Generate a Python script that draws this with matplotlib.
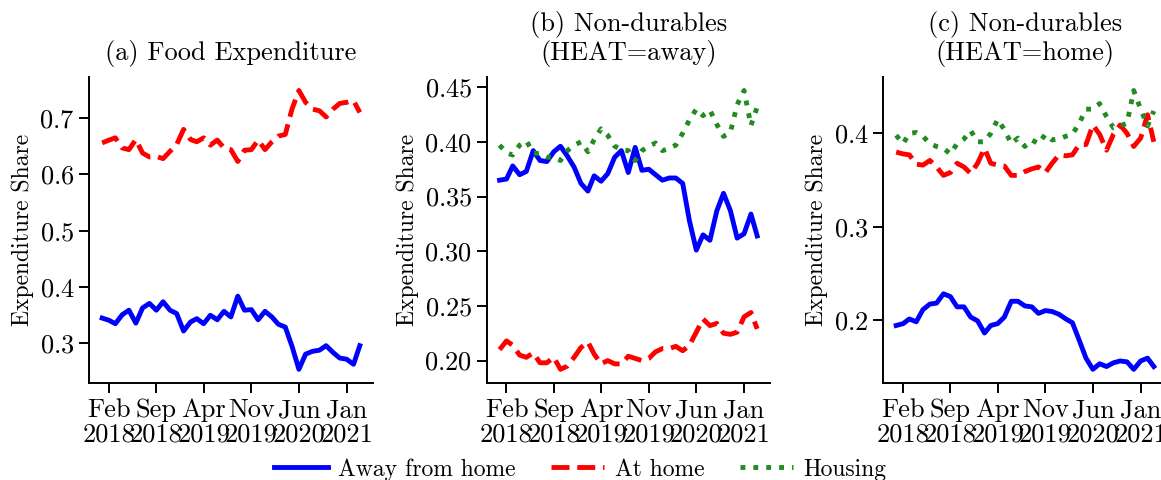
import matplotlib
matplotlib.use("Agg")
import matplotlib.pyplot as plt
import matplotlib.dates as mdates
import pandas as pd

plt.rcParams.update({
    "font.family": "serif",
    "font.serif": ["cmr10"],
    "mathtext.fontset": "cm",
    "axes.formatter.use_mathtext": True,
    "font.size": 19,
    "axes.spines.top": False,
    "axes.spines.right": False,
    "axes.linewidth": 1.4,
    "xtick.major.width": 1.4,
    "ytick.major.width": 1.4,
    "xtick.major.size": 7,
    "ytick.major.size": 7,
})

# monthly observations, Jan 2018 - Mar 2021
months = pd.date_range("2018-01-01", periods=39, freq="MS")
tick_dates = pd.to_datetime(["2018-02-01", "2018-09-01", "2019-04-01",
                             "2019-11-01", "2020-06-01", "2021-01-01"])

food_away = [0.345, 0.341, 0.335, 0.351, 0.359, 0.336, 0.363, 0.371, 0.359, 0.374,
             0.359, 0.353, 0.322, 0.338, 0.344, 0.335, 0.350, 0.342, 0.357, 0.347,
             0.384, 0.359, 0.360, 0.342, 0.357, 0.347, 0.334, 0.329, 0.295, 0.254,
             0.281, 0.286, 0.288, 0.296, 0.284, 0.274, 0.272, 0.263, 0.296]
food_home = [0.656, 0.661, 0.665, 0.647, 0.644, 0.662, 0.638, 0.631, 0.632, 0.628,
             0.641, 0.653, 0.680, 0.662, 0.658, 0.665, 0.652, 0.661, 0.647, 0.644,
             0.623, 0.643, 0.644, 0.661, 0.644, 0.658, 0.668, 0.671, 0.716, 0.749,
             0.728, 0.716, 0.713, 0.702, 0.716, 0.726, 0.728, 0.731, 0.710]

nd_away_away = [0.365, 0.366, 0.378, 0.370, 0.373, 0.392, 0.383, 0.382, 0.391, 0.396,
                0.387, 0.377, 0.362, 0.355, 0.369, 0.364, 0.371, 0.386, 0.392, 0.372,
                0.395, 0.374, 0.375, 0.370, 0.365, 0.367, 0.367, 0.362, 0.328, 0.301,
                0.315, 0.310, 0.337, 0.353, 0.337, 0.312, 0.316, 0.334, 0.314]
nd_away_home = [0.210, 0.218, 0.214, 0.205, 0.203, 0.207, 0.198, 0.198, 0.203, 0.192,
                0.195, 0.203, 0.212, 0.217, 0.206, 0.197, 0.200, 0.197, 0.197, 0.204,
                0.202, 0.200, 0.202, 0.208, 0.211, 0.211, 0.213, 0.209, 0.214, 0.226,
                0.238, 0.232, 0.234, 0.225, 0.224, 0.226, 0.240, 0.244, 0.229]
nd_away_housing = [0.397, 0.390, 0.388, 0.397, 0.401, 0.390, 0.389, 0.386, 0.386, 0.383,
                   0.392, 0.397, 0.400, 0.391, 0.402, 0.412, 0.406, 0.396, 0.393, 0.392,
                   0.383, 0.392, 0.396, 0.399, 0.392, 0.394, 0.397, 0.408, 0.420, 0.430,
                   0.424, 0.429, 0.416, 0.405, 0.409, 0.434, 0.447, 0.415, 0.432]

nd_home_away = [0.194, 0.196, 0.201, 0.198, 0.211, 0.217, 0.218, 0.228, 0.225, 0.214,
                0.214, 0.203, 0.199, 0.186, 0.194, 0.196, 0.203, 0.220, 0.220, 0.215,
                0.214, 0.207, 0.210, 0.209, 0.206, 0.201, 0.197, 0.178, 0.159, 0.147,
                0.153, 0.150, 0.154, 0.156, 0.155, 0.147, 0.156, 0.159, 0.150]
nd_home_home = [0.380, 0.378, 0.377, 0.367, 0.366, 0.371, 0.364, 0.355, 0.358, 0.368,
                0.364, 0.357, 0.368, 0.384, 0.368, 0.366, 0.365, 0.355, 0.355, 0.359,
                0.362, 0.364, 0.358, 0.368, 0.377, 0.376, 0.377, 0.388, 0.388, 0.409,
                0.399, 0.382, 0.399, 0.409, 0.400, 0.386, 0.395, 0.420, 0.391]
nd_home_housing = [0.398, 0.389, 0.400, 0.401, 0.397, 0.389, 0.386, 0.384, 0.378, 0.389,
                   0.394, 0.403, 0.391, 0.391, 0.400, 0.415, 0.404, 0.389, 0.395, 0.386,
                   0.393, 0.389, 0.399, 0.393, 0.394, 0.397, 0.399, 0.411, 0.426, 0.426,
                   0.432, 0.418, 0.406, 0.408, 0.411, 0.446, 0.426, 0.408, 0.424]

titles = ["(a) Food Expenditure",
          "(b) Non-durables\n(HEAT=away)",
          "(c) Non-durables\n(HEAT=home)"]
yticks = [
    [0.3, 0.4, 0.5, 0.6, 0.7],
    [0.20, 0.25, 0.30, 0.35, 0.40, 0.45],
    [0.2, 0.3, 0.4],
]
panels = [
    (food_away, food_home, None),
    (nd_away_away, nd_away_home, nd_away_housing),
    (nd_home_away, nd_home_home, nd_home_housing),
]

fig = plt.figure(figsize=(11.61, 4.8), dpi=100)
lefts = [0.0769, 0.4192, 0.7608]
axes = [fig.add_axes([l, 0.2015, 0.2441, 0.639]) for l in lefts]

LW = 3.5
for ax, title, ticks, (away, home, housing) in zip(axes, titles, yticks, panels):
    ax.plot(months, away, color="blue", lw=LW, label="Away from home")
    ax.plot(months, home, color="red", lw=LW, ls="--", label="At home")
    if housing is not None:
        ax.plot(months, housing, color="forestgreen", lw=LW, ls=":", label="Housing")
    ax.set_title(title, fontsize=19, pad=12, linespacing=1.1)
    ax.set_ylabel("Expenditure Share", fontsize=17)
    ax.set_yticks(ticks)
    ax.set_xticks(tick_dates)
    ax.xaxis.set_major_formatter(mdates.DateFormatter("%b\n%Y"))
    ax.tick_params(axis="x", pad=4)
    for lbl in ax.get_xticklabels():
        lbl.set_linespacing(1.0)

handles, labels = axes[1].get_legend_handles_labels()
fig.legend(handles, labels, loc="center", bbox_to_anchor=(0.5, 0.022),
           ncol=3, frameon=False, handlelength=2.25, handletextpad=0.45,
           columnspacing=1.5, fontsize=17, borderpad=0)

fig.savefig("out.png", dpi=100)
